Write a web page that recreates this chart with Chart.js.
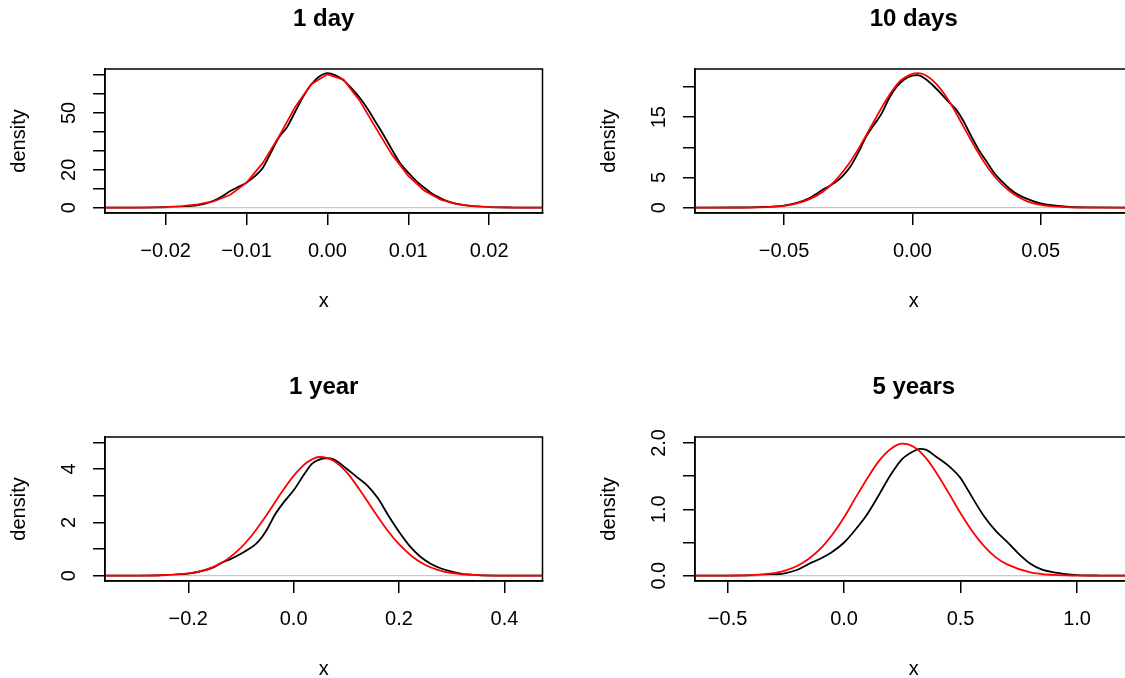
<!DOCTYPE html>
<html>
<head>
<meta charset="utf-8">
<script src="https://cdn.jsdelivr.net/npm/chart.js"></script>
<style>
  body { margin: 0; background: #fff; }
  #wrap { position: relative; width: 1125px; height: 678px; overflow: hidden; background: #fff; }
  #wrap canvas { position: absolute; }
</style>
</head>
<body>
<div id="wrap">
  <canvas id="c1" width="590" height="368" style="left:0px;top:0px"></canvas>
  <canvas id="c2" width="590" height="368" style="left:590px;top:0px"></canvas>
  <canvas id="c3" width="590" height="368" style="left:0px;top:368px"></canvas>
  <canvas id="c4" width="590" height="368" style="left:590px;top:368px"></canvas>
</div>
<script>
// 1 day
const x1Red = [-0.0275, -0.026, -0.024, -0.022, -0.020, -0.018, -0.016, -0.014, -0.012, -0.010, -0.008, -0.006, -0.004, -0.002, 0.000, 0.002, 0.004, 0.006, 0.008, 0.010, 0.012, 0.014, 0.016, 0.018, 0.020, 0.022, 0.024, 0.026, 0.0266];
const y1Red = [0, 0, 0.05, 0.15, 0.35, 0.8, 1.7, 3.4, 6.8, 13.2, 23.5, 37.5, 53.0, 65.2, 70.4, 67.6, 56.5, 42.0, 28.0, 16.8, 9.0, 4.3, 1.9, 0.8, 0.3, 0.12, 0.05, 0, 0];
const x1Black = [-0.0275, -0.024, -0.021, -0.018, -0.016, -0.015, -0.014, -0.013, -0.012, -0.011, -0.010, -0.009, -0.008, -0.007, -0.006, -0.005, -0.004, -0.003, -0.002, -0.001, 0, 0.001, 0.002, 0.003, 0.004, 0.005, 0.006, 0.007, 0.008, 0.009, 0.010, 0.011, 0.012, 0.013, 0.014, 0.015, 0.016, 0.018, 0.020, 0.023, 0.0266];
const y1Black = [0, 0.05, 0.2, 0.6, 1.4, 2.3, 3.7, 6.0, 8.8, 11.0, 13.2, 16.5, 21.0, 29.0, 37.0, 42.5, 50.5, 58.5, 65.0, 69.2, 71.0, 69.8, 67.2, 63.0, 58.0, 52.0, 45.0, 38.0, 30.5, 23.5, 18.5, 14.0, 10.5, 7.2, 5.0, 3.2, 2.0, 0.8, 0.3, 0.08, 0.02];
const x1Ticks = [-0.02, -0.01, 0, 0.01, 0.02];
const x1Labels = ['\u22120.02', '\u22120.01', '0.00', '0.01', '0.02'];
const y1Ticks = [0, 10, 20, 30, 40, 50, 60, 70];
const y1Labels = ['0', '', '20', '', '', '50', '', ''];

// 10 days
const x2Red = [-0.0847, -0.07, -0.06, -0.05, -0.045, -0.04, -0.035, -0.03, -0.025, -0.02, -0.015, -0.01, -0.005, 0, 0.002, 0.005, 0.01, 0.015, 0.02, 0.025, 0.03, 0.035, 0.04, 0.045, 0.05, 0.06, 0.07, 0.0858];
const y2Red = [0, 0.01, 0.05, 0.3, 0.7, 1.4, 2.6, 4.5, 7.1, 10.5, 14.3, 18.0, 20.9, 22.2, 22.3, 22.0, 20.2, 17.2, 13.4, 9.6, 6.3, 3.8, 2.1, 1.0, 0.45, 0.08, 0.01, 0];
const x2Black = [-0.0847, -0.07, -0.06, -0.05, -0.045, -0.04, -0.037, -0.034, -0.03, -0.027, -0.024, -0.021, -0.018, -0.015, -0.012, -0.009, -0.006, -0.003, 0, 0.002, 0.005, 0.008, 0.011, 0.014, 0.017, 0.02, 0.023, 0.026, 0.029, 0.032, 0.035, 0.038, 0.041, 0.045, 0.05, 0.06, 0.07, 0.0858];
const y2Black = [0, 0.02, 0.08, 0.35, 0.8, 1.6, 2.4, 3.2, 4.2, 5.3, 6.9, 9.2, 11.8, 13.7, 15.6, 18.2, 20.1, 21.3, 21.9, 22.0, 21.4, 20.3, 19.0, 17.6, 16.3, 14.3, 11.8, 9.5, 7.6, 5.7, 4.3, 3.1, 2.2, 1.4, 0.7, 0.15, 0.03, 0];
const x2Ticks = [-0.05, 0, 0.05];
const x2Labels = ['\u22120.05', '0.00', '0.05'];
const y2Ticks = [0, 5, 10, 15, 20];
const y2Labels = ['0', '5', '', '15', ''];

// 1 year
const x3Red = [-0.358, -0.3, -0.25, -0.2, -0.175, -0.15, -0.125, -0.1, -0.075, -0.05, -0.025, 0, 0.025, 0.05, 0.075, 0.1, 0.125, 0.15, 0.175, 0.2, 0.225, 0.25, 0.275, 0.3, 0.35, 0.4, 0.4723];
const y3Red = [0, 0.002, 0.015, 0.086, 0.18, 0.35, 0.63, 1.05, 1.62, 2.31, 3.06, 3.74, 4.24, 4.45, 4.32, 3.89, 3.23, 2.49, 1.78, 1.18, 0.72, 0.40, 0.21, 0.10, 0.02, 0.003, 0];
const x3Black = [-0.358, -0.3, -0.25, -0.2, -0.175, -0.15, -0.137, -0.12, -0.1, -0.085, -0.072, -0.06, -0.05, -0.035, -0.02, 0, 0.02, 0.035, 0.05, 0.06, 0.07, 0.08, 0.1, 0.12, 0.14, 0.16, 0.18, 0.2, 0.22, 0.24, 0.26, 0.28, 0.3, 0.32, 0.35, 0.4, 0.4723];
const y3Black = [0, 0.003, 0.02, 0.08, 0.17, 0.33, 0.48, 0.62, 0.82, 1.0, 1.18, 1.45, 1.75, 2.3, 2.72, 3.2, 3.8, 4.2, 4.36, 4.4, 4.4, 4.32, 4.02, 3.7, 3.38, 2.9, 2.25, 1.65, 1.12, 0.72, 0.45, 0.27, 0.15, 0.07, 0.02, 0.004, 0];
const x3Ticks = [-0.2, 0, 0.2, 0.4];
const x3Labels = ['\u22120.2', '0.0', '0.2', '0.4'];
const y3Ticks = [0, 1, 2, 3, 4, 5];
const y3Labels = ['0', '', '2', '', '4', ''];

// 5 years
const x4Red = [-0.64, -0.5, -0.4, -0.3, -0.25, -0.2, -0.15, -0.1, -0.05, 0, 0.05, 0.1, 0.15, 0.2, 0.25, 0.3, 0.35, 0.4, 0.45, 0.5, 0.55, 0.6, 0.65, 0.7, 0.8, 0.9, 1.0, 1.1, 1.238];
const y4Red = [0, 0.002, 0.009, 0.04, 0.08, 0.15, 0.26, 0.41, 0.62, 0.88, 1.18, 1.47, 1.73, 1.91, 1.99, 1.94, 1.78, 1.53, 1.24, 0.94, 0.67, 0.45, 0.28, 0.17, 0.05, 0.011, 0.002, 0, 0];
const x4Black = [-0.64, -0.4, -0.3, -0.25, -0.2, -0.15, -0.1, -0.05, 0, 0.05, 0.1, 0.15, 0.2, 0.25, 0.3, 0.325, 0.35, 0.4, 0.45, 0.5, 0.525, 0.55, 0.6, 0.65, 0.7, 0.75, 0.8, 0.85, 0.9, 0.95, 1.0, 1.1, 1.238];
const y4Black = [0, 0.005, 0.02, 0.04, 0.09, 0.18, 0.26, 0.36, 0.50, 0.70, 0.93, 1.22, 1.52, 1.76, 1.88, 1.91, 1.90, 1.78, 1.65, 1.47, 1.33, 1.18, 0.90, 0.68, 0.51, 0.33, 0.18, 0.09, 0.05, 0.025, 0.01, 0.002, 0];
const x4Ticks = [-0.5, 0, 0.5, 1.0];
const x4Labels = ['\u22120.5', '0.0', '0.5', '1.0'];
const y4Ticks = [0, 0.5, 1, 1.5, 2];
const y4Labels = ['0.0', '', '1.0', '', '2.0'];

Chart.defaults.font.family = '"Liberation Sans", Arial, Helvetica, sans-serif';
Chart.defaults.color = '#000';

const toPoints = (xs, ys) => xs.map((x, i) => ({ x: x, y: ys[i] }));

// R style box + rotated y tick labels
const boxPlugin = {
    id: 'rbox',
    afterDraw(chart, args, opts) {
        const ctx = chart.ctx;
        const a = chart.chartArea;
        const ys = chart.scales.y;
        ctx.save();
        ctx.strokeStyle = '#000';
        ctx.lineWidth = 1.5;
        ctx.strokeRect(a.left, a.top, a.right - a.left, a.bottom - a.top);
        ctx.fillStyle = '#000';
        ctx.font = '20px "Liberation Sans", Arial, sans-serif';
        ctx.textAlign = 'center';
        ctx.textBaseline = 'middle';
        ys.ticks.forEach((t, i) => {
            if (!opts.labels[i]) return;
            ctx.save();
            ctx.translate(a.left - 36, ys.getPixelForValue(t.value));
            ctx.rotate(-Math.PI / 2);
            ctx.fillText(opts.labels[i], 0, 0);
            ctx.restore();
        });
        ctx.restore();
    }
};

function makePanel(id, title, red, black, xRange, yRange, xTicks, xLabels, yTicks, yLabels, redStraight) {
    new Chart(document.getElementById(id), {
        type: 'line',
        data: {
            datasets: [
                {
                    data: red,
                    borderColor: '#ff0000',
                    borderWidth: 1.8,
                    pointRadius: 0,
                    cubicInterpolationMode: redStraight ? 'default' : 'monotone'
                },
                {
                    data: [{ x: xRange[0], y: 0 }, { x: xRange[1], y: 0 }],
                    borderColor: '#bebebe',
                    borderWidth: 1,
                    pointRadius: 0
                },
                {
                    data: black,
                    borderColor: '#000000',
                    borderWidth: 1.8,
                    pointRadius: 0,
                    cubicInterpolationMode: 'monotone'
                }
            ]
        },
        plugins: [boxPlugin],
        options: {
            responsive: false,
            animation: false,
            devicePixelRatio: 1,
            layout: { padding: { left: 0, right: 47.5, top: 0, bottom: 0 } },
            plugins: {
                legend: { display: false },
                tooltip: { enabled: false },
                title: {
                    display: true,
                    text: title,
                    fullSize: false,
                    color: '#000',
                    font: { size: 24, weight: 'bold' },
                    padding: { top: 5.3, bottom: 34.9 }
                },
                rbox: { labels: yLabels }
            },
            scales: {
                x: {
                    type: 'linear',
                    position: 'bottom',
                    min: xRange[0],
                    max: xRange[1],
                    afterBuildTicks: s => { s.ticks = xTicks.map(v => ({ value: v })); },
                    afterFit: s => { s.height = 155; s.paddingLeft = 0; s.paddingRight = 0; },
                    grid: { drawOnChartArea: false, drawTicks: true, tickLength: 12, color: '#000', lineWidth: 1.5 },
                    border: { display: true, color: '#000', width: 1.5 },
                    ticks: {
                        color: '#000',
                        font: { size: 20 },
                        padding: 14,
                        autoSkip: false,
                        maxRotation: 0,
                        callback: (v, i) => xLabels[i]
                    },
                    title: { display: true, text: 'x', color: '#000', font: { size: 20 }, padding: { top: 0, bottom: 54.7 } }
                },
                y: {
                    type: 'linear',
                    min: yRange[0],
                    max: yRange[1],
                    afterBuildTicks: s => { s.ticks = yTicks.map(v => ({ value: v })); },
                    afterFit: s => { s.width = 105; s.paddingTop = 0; s.paddingBottom = 0; },
                    grid: { drawOnChartArea: false, drawTicks: true, tickLength: 12, color: '#000', lineWidth: 1.5 },
                    border: { display: true, color: '#000', width: 1.5 },
                    ticks: { display: false },
                    title: { display: true, text: 'density', color: '#000', font: { size: 20 }, padding: { top: 7.3, bottom: 0 } }
                }
            }
        }
    });
}

makePanel('c1', '1 day', toPoints(x1Red, y1Red), toPoints(x1Black, y1Black),
    [-0.0275, 0.0266], [-2.8, 73.2], x1Ticks, x1Labels, y1Ticks, y1Labels, true);
makePanel('c2', '10 days', toPoints(x2Red, y2Red), toPoints(x2Black, y2Black),
    [-0.0847, 0.0858], [-0.89, 23.0], x2Ticks, x2Labels, y2Ticks, y2Labels, false);
makePanel('c3', '1 year', toPoints(x3Red, y3Red), toPoints(x3Black, y3Black),
    [-0.358, 0.4723], [-0.2, 5.2], x3Ticks, x3Labels, y3Ticks, y3Labels, false);
makePanel('c4', '5 years', toPoints(x4Red, y4Red), toPoints(x4Black, y4Black),
    [-0.64, 1.238], [-0.08, 2.09], x4Ticks, x4Labels, y4Ticks, y4Labels, false);
</script>
</body>
</html>
